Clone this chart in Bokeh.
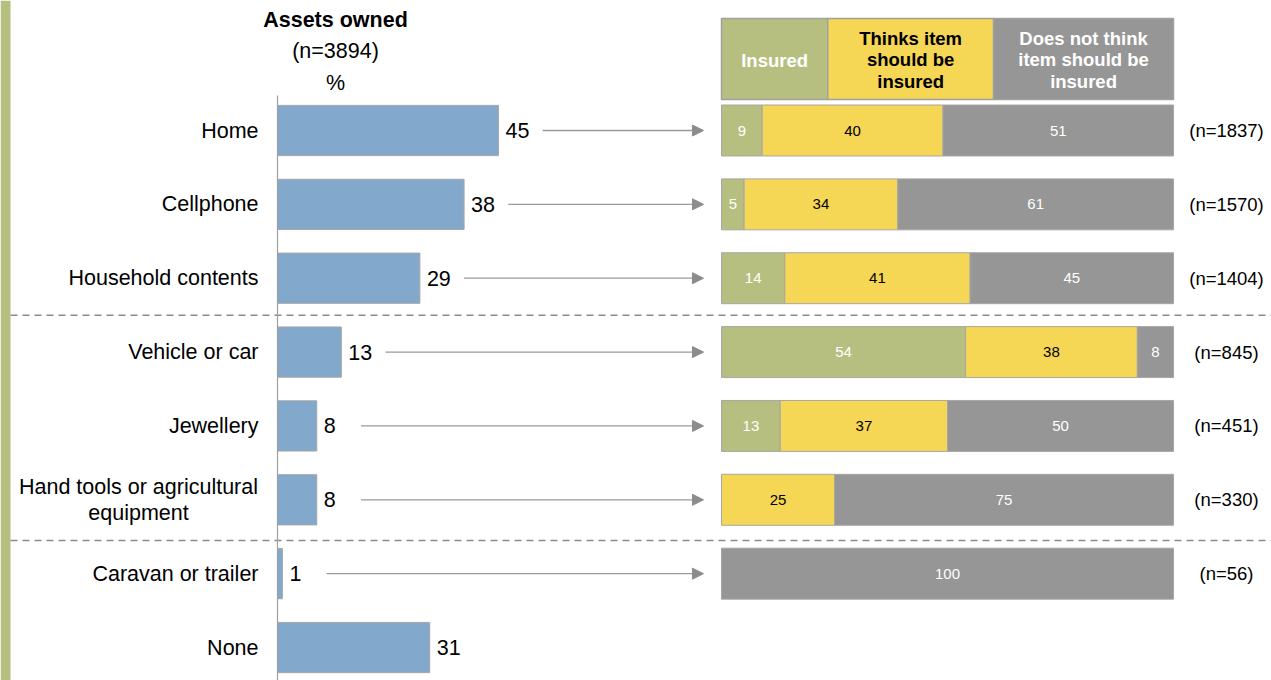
from bokeh.plotting import figure
from bokeh.models import Range1d, ColumnDataSource, Arrow, NormalHead
from bokeh.core.properties import value
from bokeh.embed import file_html
from bokeh.resources import INLINE

# ---------------- data ----------------
categories = ["Home", "Cellphone", "Household contents", "Vehicle or car", "Jewellery",
              "Hand tools or agricultural\nequipment", "Caravan or trailer", "None"]
assets_owned = [45, 38, 29, 13, 8, 8, 1, 31]
insured = [9, 5, 14, 54, 13, 0, 0]
should_insure = [40, 34, 41, 38, 37, 25, 0]
not_should_insure = [51, 61, 45, 8, 50, 75, 100]
sample_sizes = [1837, 1570, 1404, 845, 451, 330, 56]
header_left = ["Assets owned", "(n=3894)", "%"]
legend_labels = ["Insured", "Thinks item\nshould be\ninsured", "Does not think\nitem should be\ninsured"]

# ---------------- style ----------------
FONT = "Liberation Sans"
GREEN = "#B6BF7F"
YELLOW = "#F6D655"
GRAY = "#969696"
BLUE = "#82A8CB"
EDGE = "#A6A6A6"
BIG = "21.5px"
W, H = 1271, 680
ROW = 73.86           # pixels per row
Y0 = 130              # pixel of first row centre
LEFT_ORIGIN, LEFT_SCALE = 277, 4.91
RIGHT_ORIGIN, RIGHT_WIDTH = 721, 452

y_top = -Y0 / ROW
y_bot = (H - Y0) / ROW

p = figure(width=W, height=H, output_backend="svg", toolbar_location=None,
           x_axis_type=None, y_axis_type=None,
           x_range=Range1d(0, W), y_range=Range1d(y_bot, y_top),
           min_border=0, outline_line_color=None, background_fill_color="white")
p.grid.visible = False
rs = RIGHT_WIDTH / 100
p.extra_x_ranges = {
    "left": Range1d(-LEFT_ORIGIN / LEFT_SCALE, (W - LEFT_ORIGIN) / LEFT_SCALE),
    "right": Range1d(-RIGHT_ORIGIN / rs, 100 + (W - RIGHT_ORIGIN - RIGHT_WIDTH) / rs),
}

def py(pix):
    return (pix - Y0) / ROW

# left strip
p.quad(left=0, right=10, bottom=y_bot, top=y_top, fill_color=GREEN, line_color=None)

# dashed separators
p.segment(x0=[10, 10], x1=[W, W], y0=[2.5, 5.55], y1=[2.5, 5.55],
          line_color="#8C8C8C", line_width=1.5, line_dash="7 5")

n = len(categories)
idx = list(range(n))

# left bars
p.hbar(y=idx, left=0, right=assets_owned, height=0.68, fill_color=BLUE,
       line_color=EDGE, line_width=1, x_range_name="left")
p.segment(x0=[0], x1=[0], y0=[py(95)], y1=[y_bot], line_color="#A0A0A0",
          line_width=1.2, x_range_name="left")

p.text(x=assets_owned, y=idx, text=[str(v) for v in assets_owned], x_offset=7,
       text_align="left", text_baseline="middle", text_font=value(FONT),
       text_font_size=BIG, text_color="black", x_range_name="left")

simple = [i for i in idx if "\n" not in categories[i]]
multi = [i for i in idx if "\n" in categories[i]]
p.text(x=[0] * len(simple), y=simple, text=[categories[i] for i in simple], x_offset=-19,
       text_align="right", text_baseline="middle", text_font=value(FONT),
       text_font_size=BIG, text_color="black", x_range_name="left")
p.text(x=[0] * len(multi), y=multi, text=[categories[i] for i in multi], x_offset=-139,
       text_align="center", text_baseline="middle", text_font=value(FONT),
       text_font_size=BIG, text_color="black", text_line_height=1.08,
       x_range_name="left")

# left header
p.text(x=[335], y=[py(19)], text=[header_left[0]], text_align="center", text_baseline="middle",
       text_font=value(FONT), text_font_size="21.5px", text_font_style="bold", text_color="black")
p.text(x=[335, 335], y=[py(50), py(82)], text=header_left[1:], text_align="center",
       text_baseline="middle", text_font=value(FONT), text_font_size="21.5px", text_color="black")

# arrows
m = len(sample_sizes)
arrow_src = ColumnDataSource(dict(
    xs=[assets_owned[i] + 9 for i in range(m)],
    xe=[(703 - LEFT_ORIGIN) / LEFT_SCALE] * m,
    y=list(range(m)),
))
p.add_layout(Arrow(end=NormalHead(size=11, fill_color="#8C8C8C", line_color="#8C8C8C"),
                   x_start="xs", y_start="y", x_end="xe", y_end="y", source=arrow_src,
                   line_color="#999999", line_width=1.3, x_range_name="left"))

# stacked bars
seg_l, seg_r, seg_y, seg_c, lab_x, lab_t, lab_y, lab_c = [], [], [], [], [], [], [], []
for i in range(m):
    start = 0
    for vals, col, tcol in ((insured, GREEN, "white"), (should_insure, YELLOW, "black"),
                            (not_should_insure, GRAY, "white")):
        v = vals[i]
        if v > 0:
            seg_l.append(start); seg_r.append(start + v); seg_y.append(i); seg_c.append(col)
            lab_x.append(start + v / 2); lab_t.append(str(v)); lab_y.append(i); lab_c.append(tcol)
        start += v
p.hbar(y=seg_y, left=seg_l, right=seg_r, height=0.69, fill_color=seg_c,
       line_color=EDGE, line_width=1, x_range_name="right")
p.text(x=lab_x, y=lab_y, text=lab_t, text_color=lab_c, text_align="center",
       text_baseline="middle", text_font=value(FONT), text_font_size="15px",
       x_range_name="right")

# sample sizes
p.text(x=[(1226 - RIGHT_ORIGIN) / rs] * m, y=list(range(m)),
       text=[f"(n={s})" for s in sample_sizes], text_align="center", text_baseline="middle",
       text_font=value(FONT), text_font_size="18.5px", text_color="black", x_range_name="right")

# legend header
leg_bounds = [0, 23.5, 60.2, 100]
p.quad(left=leg_bounds[:-1], right=leg_bounds[1:], bottom=py(99), top=py(18),
       fill_color=[GREEN, YELLOW, GRAY], line_color="#A0A0A0", line_width=1.5,
       x_range_name="right")
p.text(x=[(leg_bounds[k] + leg_bounds[k + 1]) / 2 for k in range(3)], y=[py(59.5)] * 3,
       text=legend_labels, text_color=["white", "black", "white"], text_align="center",
       text_baseline="middle", text_font=value(FONT), text_font_size="18.5px",
       text_font_style="bold", text_line_height=1.04, x_range_name="right")

open("out.html", "w").write(file_html(p, INLINE))
